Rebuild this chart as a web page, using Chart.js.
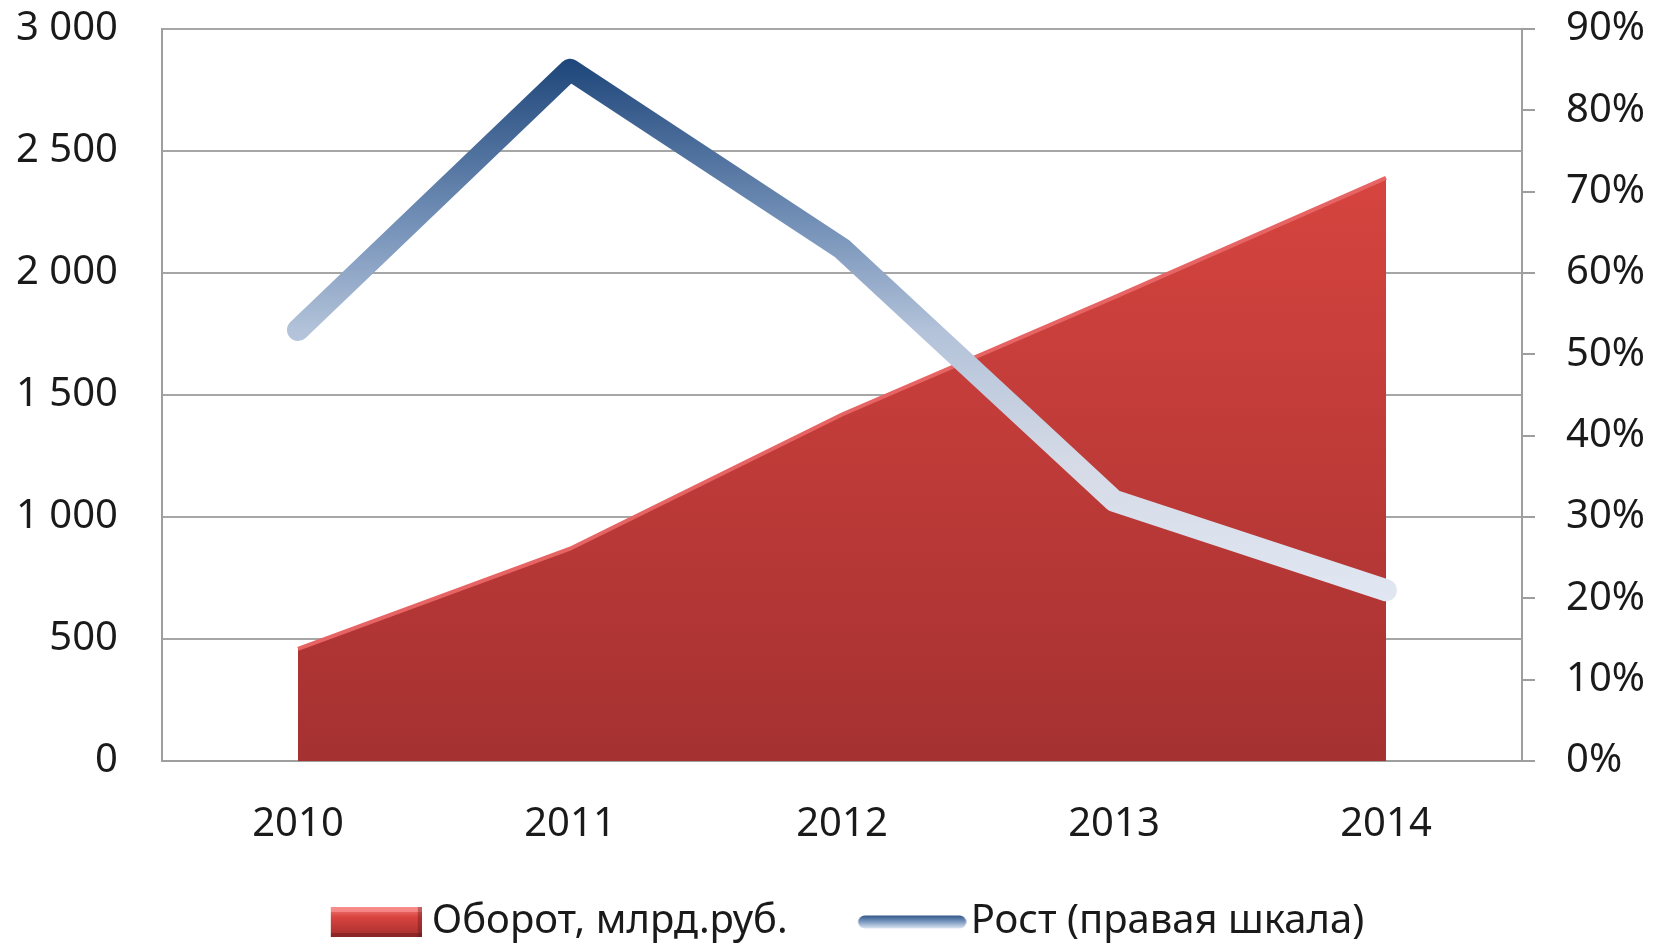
<!DOCTYPE html>
<html>
<head>
<meta charset="utf-8">
<script src="https://cdn.jsdelivr.net/npm/chart.js@4.4.1/dist/chart.umd.min.js"></script>
<style>
  html, body { margin: 0; padding: 0; background: #ffffff; }
  #wrap { width: 1653px; height: 946px; position: relative; }
</style>
</head>
<body>
<div id="wrap"><canvas id="c" width="1653" height="946"></canvas></div>
<script>
const years = ['2010', '2011', '2012', '2013', '2014'];
const turnover = [460, 870, 1420, 1900, 2390];
const growth = [53, 85, 63, 32, 21];
const turnoverLabel = 'Оборот, млрд.руб.';
const growthLabel = 'Рост (правая шкала)';
const leftTicksMax = 3000;
const rightTicksMax = 90;

const FONT = "'Noto Sans', 'DejaVu Sans', sans-serif";

function fmtThousands(v) {
  return String(v).replace(/\B(?=(\d{3})+(?!\d))/g, ' ');
}

// Legend sample images (content placed at the right part of a wider transparent canvas)
function makeAreaSample() {
  const c = document.createElement('canvas');
  c.width = 143; c.height = 30;
  const g = c.getContext('2d');
  const x0 = 52, w = 91, h = 30;
  const gr = g.createLinearGradient(0, 0, 0, h);
  gr.addColorStop(0, '#f07a78');
  gr.addColorStop(0.35, '#d8433f');
  gr.addColorStop(1, '#a42f2f');
  g.fillStyle = gr;
  g.fillRect(x0, 0, w, h);
  g.fillStyle = 'rgba(255,160,160,0.55)';
  g.fillRect(x0, 0, w, 5);
  g.fillStyle = 'rgba(90,20,20,0.35)';
  g.fillRect(x0, h - 4, w, 4);
  g.fillRect(x0 + w - 4, 0, 4, h);
  return c;
}
function makeLineSample() {
  const c = document.createElement('canvas');
  c.width = 155; c.height = 16;
  const g = c.getContext('2d');
  const gr = g.createLinearGradient(0, 1, 0, 15);
  gr.addColorStop(0, '#2a5286');
  gr.addColorStop(0.5, '#7f9cc2');
  gr.addColorStop(1, '#e4ebf5');
  g.strokeStyle = gr;
  g.lineWidth = 13;
  g.lineCap = 'round';
  g.beginPath();
  g.moveTo(46 + 7, 8);
  g.lineTo(155 - 7, 8);
  g.stroke();
  return c;
}
const areaSample = makeAreaSample();
const lineSample = makeLineSample();

function areaGradient(ctx) {
  const chart = ctx.chart;
  const area = chart.chartArea;
  if (!area) return '#c43c3a';
  const y = chart.scales.y;
  const g = chart.ctx.createLinearGradient(0, y.getPixelForValue(2400), 0, area.bottom);
  g.addColorStop(0, '#d6443f');
  g.addColorStop(1, '#a53131');
  return g;
}
function lineGradient(ctx) {
  const chart = ctx.chart;
  const area = chart.chartArea;
  if (!area) return '#4f6f9f';
  const y1 = chart.scales.y1;
  const g = chart.ctx.createLinearGradient(0, y1.getPixelForValue(86), 0, y1.getPixelForValue(20));
  g.addColorStop(0, '#1f477b');
  g.addColorStop(0.3, '#7390b7');
  g.addColorStop(0.5, '#b2c2d9');
  g.addColorStop(0.75, '#d5dae6');
  g.addColorStop(1, '#e0e7f2');
  return g;
}

new Chart(document.getElementById('c'), {
  type: 'line',
  data: {
    labels: years,
    datasets: [
      {
        label: turnoverLabel,
        data: turnover,
        yAxisID: 'y',
        fill: 'origin',
        backgroundColor: areaGradient,
        borderColor: '#e66463',
        borderWidth: 4,
        pointRadius: 0,
        tension: 0,
        order: 1,
        pointStyle: areaSample
      },
      {
        label: growthLabel,
        data: growth,
        yAxisID: 'y1',
        fill: false,
        borderColor: lineGradient,
        borderWidth: 22,
        borderCapStyle: 'round',
        borderJoinStyle: 'round',
        pointRadius: 0,
        tension: 0,
        order: 0,
        pointStyle: lineSample
      }
    ]
  },
  options: {
    responsive: false,
    animation: false,
    devicePixelRatio: 1,
    layout: { padding: { top: 29, left: 0, right: 0, bottom: -6 } },
    plugins: {
      tooltip: { enabled: false },
      legend: {
        display: true,
        position: 'bottom',
        labels: {
          usePointStyle: true,
          pointStyleWidth: 123,
          padding: 40,
          color: '#1a1a1a',
          font: { family: FONT, size: 40 },
          sort: (a, b) => a.datasetIndex - b.datasetIndex
        }
      }
    },
    scales: {
      x: {
        offset: true,
        grid: { display: false, drawTicks: false },
        border: { display: true, color: '#9e9e9e', width: 2 },
        ticks: {
          color: '#1a1a1a',
          font: { family: FONT, size: 40 },
          padding: 40,
          maxRotation: 0
        },
        afterFit: (s) => { s.height = 101; }
      },
      y: {
        position: 'left',
        min: 0,
        max: leftTicksMax,
        ticks: {
          stepSize: 500,
          color: '#1a1a1a',
          font: { family: FONT, size: 40 },
          padding: 44,
          callback: (v) => fmtThousands(v)
        },
        grid: { color: '#a6a6a6', lineWidth: 2, drawTicks: false },
        border: { display: true, color: '#9e9e9e', width: 2 },
        afterFit: (s) => { s.width = 162; s.paddingTop = 0; s.paddingBottom = 0; }
      },
      y1: {
        position: 'right',
        min: 0,
        max: rightTicksMax,
        ticks: {
          stepSize: 10,
          color: '#1a1a1a',
          font: { family: FONT, size: 40 },
          padding: 31,
          callback: (v) => v + '%'
        },
        grid: { drawOnChartArea: false, drawTicks: true, tickLength: 13, color: '#9e9e9e', lineWidth: 2 },
        border: { display: true, color: '#9e9e9e', width: 2 },
        afterFit: (s) => { s.width = 131; s.paddingTop = 0; s.paddingBottom = 0; }
      }
    }
  }
});
</script>
</body>
</html>
